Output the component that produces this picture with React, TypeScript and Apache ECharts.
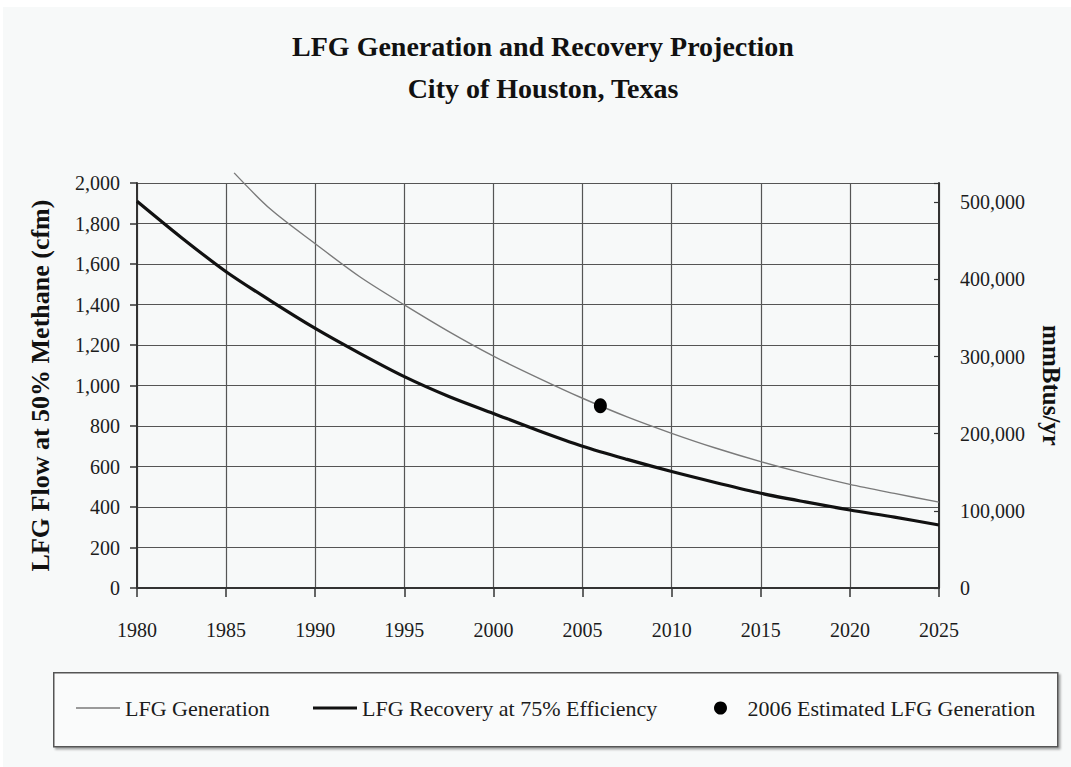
import React, { useEffect, useRef } from "react";
import * as echarts from "echarts";

// ---- data ----
const recoveryYears = [1980, 1982.5, 1985, 1987.5, 1990, 1992.5, 1995, 1997.5, 2000, 2002.5, 2005, 2007.5, 2010, 2012.5, 2015, 2017.5, 2020, 2022.5, 2025];
const recoveryCfm = [1910, 1730, 1562, 1418, 1282, 1159, 1044, 946, 862, 778, 700, 635, 575, 520, 468, 425, 385, 350, 311];

const generationYears = [1985.45, 1987.5, 1990, 1992.5, 1995, 1997.5, 2000, 2002.5, 2005, 2007.5, 2010, 2012.5, 2015, 2017.5, 2020, 2022.5, 2025];
const generationCfm = [2050, 1870, 1700, 1537, 1398, 1266, 1145, 1038, 937, 845, 764, 690, 624, 565, 512, 467, 424];

const estimateYear = [2006];
const estimateCfm = [900];

const seriesNames = ["LFG Generation", "LFG Recovery at 75% Efficiency", "2006 Estimated LFG Generation"];

const FONT = "'Liberation Serif', 'Times New Roman', serif";
const TEXT = "#1c1c1c";
const GRID = "#555";

export default function App() {
  const ref = useRef<HTMLDivElement>(null);

  useEffect(() => {
    const chart = echarts.init(ref.current!, null, { renderer: "svg" });
    const pairs = (xs: number[], ys: number[]) => xs.map((x, i) => [x, ys[i]]);
    const legendText = { fontFamily: FONT, fontSize: 22, color: TEXT };

    chart.setOption({
      animation: false,
      backgroundColor: "#f7f9f9",
      title: {
        text: "LFG Generation and Recovery Projection\nCity of Houston, Texas",
        left: 535,
        top: 13,
        textAlign: "center",
        textStyle: { fontFamily: FONT, fontSize: 28, fontWeight: "bold", color: "#111", lineHeight: 42 },
      },
      grid: { left: 134, right: 132, top: 176, bottom: 179, containLabel: false, outerBoundsMode: "none" },
      xAxis: {
        type: "value",
        min: 1980,
        max: 2025,
        interval: 5,
        axisLine: { show: true, onZero: false, lineStyle: { color: "#333", width: 2 } },
        axisTick: { show: true, length: 9, lineStyle: { color: "#333", width: 1.5 } },
        axisLabel: { margin: 32, fontFamily: FONT, fontSize: 20, color: TEXT, formatter: (v: number) => String(v) },
        splitLine: { show: true, lineStyle: { color: GRID, width: 1.2 } },
      },
      yAxis: [
        {
          type: "value",
          min: 0,
          max: 2000,
          interval: 200,
          name: "LFG Flow at 50% Methane (cfm)",
          nameLocation: "middle",
          nameGap: 84,
          nameTextStyle: { fontFamily: FONT, fontSize: 26, fontWeight: "bold", color: "#111" },
          axisLine: { show: true, lineStyle: { color: "#333", width: 2 } },
          axisTick: { show: true, length: 7, lineStyle: { color: "#333", width: 1.5 } },
          axisLabel: {
            margin: 17,
            fontFamily: FONT,
            fontSize: 20,
            color: TEXT,
            formatter: (v: number) => v.toLocaleString("en-US"),
          },
          splitLine: { show: true, lineStyle: { color: GRID, width: 1.2 } },
        },
        {
          type: "value",
          min: 0,
          max: 525000,
          interval: 100000,
          position: "right",
          name: "mmBtus/yr",
          nameLocation: "middle",
          nameGap: 100,
          nameRotate: -90,
          nameTextStyle: { fontFamily: FONT, fontSize: 25, fontWeight: "bold", color: "#111" },
          axisLine: { show: true, lineStyle: { color: "#333", width: 2 } },
          axisTick: { show: true, inside: true, length: 5, lineStyle: { color: "#333", width: 1.2 } },
          axisLabel: {
            margin: 21,
            fontFamily: FONT,
            fontSize: 20,
            color: TEXT,
            formatter: (v: number) => (v % 100000 === 0 ? v.toLocaleString("en-US") : ""),
          },
          splitLine: { show: false },
        },
      ],
      legend: [
        {
          data: [{ name: seriesNames[0], icon: "rect" }],
          left: 73,
          top: 690,
          padding: 0,
          itemWidth: 44,
          itemHeight: 1.6,
          textStyle: legendText,
        },
        {
          data: [{ name: seriesNames[1], icon: "rect" }],
          left: 310,
          top: 690,
          padding: 0,
          itemWidth: 44,
          itemHeight: 3.2,
          textStyle: legendText,
        },
        {
          data: [{ name: seriesNames[2], icon: "circle" }],
          left: 711,
          top: 690,
          padding: 0,
          itemWidth: 44,
          itemHeight: 13,
          textStyle: legendText,
        },
      ],
      graphic: [
        {
          type: "rect",
          left: 50,
          top: 665,
          shape: { width: 1004, height: 74 },
          style: {
            fill: "#fafbfb",
            stroke: "#555",
            lineWidth: 1.5,
            shadowColor: "rgba(0,0,0,0.35)",
            shadowOffsetX: 2,
            shadowOffsetY: 2,
            shadowBlur: 2,
          },
          z: -10,
          silent: true,
        },
      ],
      series: [
        {
          name: seriesNames[0],
          type: "line",
          data: pairs(generationYears, generationCfm),
          symbol: "none",
          clip: false,
          smooth: 0.3,
          lineStyle: { color: "#7a7a7a", width: 1.4 },
          itemStyle: { color: "#7a7a7a" },
          z: 3,
        },
        {
          name: seriesNames[1],
          type: "line",
          data: pairs(recoveryYears, recoveryCfm),
          symbol: "none",
          smooth: 0.3,
          lineStyle: { color: "#111", width: 3.2 },
          itemStyle: { color: "#111" },
          z: 4,
        },
        {
          name: seriesNames[2],
          type: "scatter",
          data: pairs(estimateYear, estimateCfm),
          symbol: "circle",
          symbolSize: [13, 15],
          itemStyle: { color: "#000", opacity: 1 },
          z: 5,
        },
      ],
    });
    return () => chart.dispose();
  }, []);

  return (
    <div style={{ position: "fixed", left: 0, top: 0, width: 1071, height: 767, background: "#fff" }}>
      <div ref={ref} style={{ position: "absolute", left: 3, top: 7, width: 1068, height: 760, background: "#f7f9f9" }} />
    </div>
  );
}
